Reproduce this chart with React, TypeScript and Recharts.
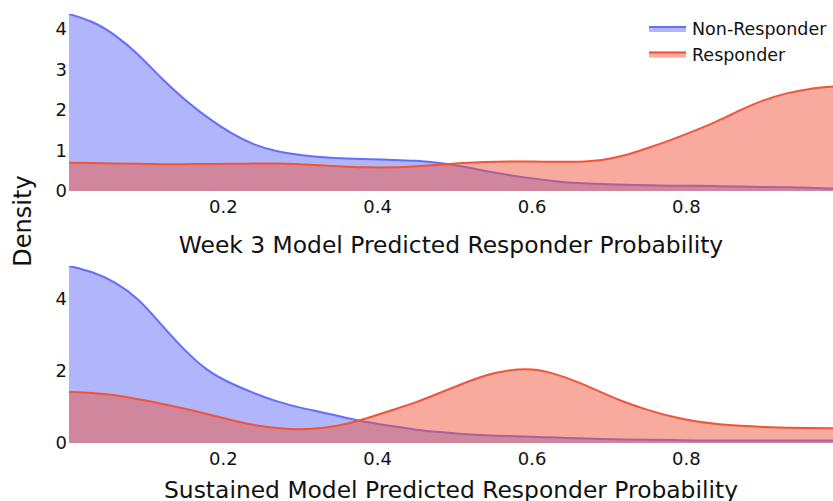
import { AreaChart, Area, XAxis, YAxis } from 'recharts';

const probability = [
  0, 0.03, 0.06, 0.09, 0.12, 0.15, 0.18, 0.21, 0.24, 0.27, 0.3, 0.33, 0.36, 0.39, 0.42, 0.45, 0.48,
  0.51, 0.54, 0.57, 0.6, 0.63, 0.66, 0.69, 0.72, 0.75, 0.78, 0.81, 0.84, 0.87, 0.9, 0.93, 0.96, 0.99,
];

const week3NonResponder = [
  4.37, 4.2, 3.86, 3.38, 2.77, 2.25, 1.8, 1.42, 1.13, 0.97, 0.88, 0.83, 0.8, 0.78, 0.77, 0.75, 0.7,
  0.61, 0.49, 0.39, 0.31, 0.24, 0.19, 0.17, 0.15, 0.14, 0.13, 0.13, 0.12, 0.11, 0.1, 0.09, 0.08, 0.06,
];

const week3Responder = [
  0.7, 0.69, 0.68, 0.67, 0.66, 0.66, 0.67, 0.67, 0.68, 0.68, 0.66, 0.63, 0.6, 0.58, 0.58, 0.61, 0.65,
  0.69, 0.72, 0.73, 0.73, 0.72, 0.72, 0.75, 0.87, 1.06, 1.26, 1.48, 1.72, 2.0, 2.25, 2.42, 2.53, 2.58,
];

const sustainedNonResponder = [
  4.89, 4.74, 4.45, 4.0, 3.26, 2.55, 1.97, 1.64, 1.37, 1.14, 0.97, 0.84, 0.69, 0.56, 0.46, 0.36, 0.3,
  0.25, 0.21, 0.19, 0.17, 0.15, 0.13, 0.11, 0.1, 0.09, 0.08, 0.07, 0.07, 0.07, 0.07, 0.07, 0.07, 0.07,
];

const sustainedResponder = [
  1.41, 1.39, 1.33, 1.21, 1.09, 0.95, 0.8, 0.63, 0.49, 0.41, 0.37, 0.41, 0.52, 0.71, 0.92, 1.12, 1.38,
  1.64, 1.88, 2.02, 2.06, 1.92, 1.68, 1.4, 1.12, 0.91, 0.73, 0.6, 0.52, 0.47, 0.44, 0.42, 0.41, 0.41,
];

const xTicks = [0.2, 0.4, 0.6, 0.8];
const week3YTicks = [0, 1, 2, 3, 4];
const sustainedYTicks = [0, 2, 4];
const seriesNames = ['Non-Responder', 'Responder'];
const seriesColors = ['#636efa', '#ef553b'];

const FONT = '"DejaVu Sans", Verdana, sans-serif';
const tickStyle = { fill: '#111', fontSize: 18, fontFamily: FONT };

const week3Data = probability.map((p, i) => ({
  p,
  nonResponder: week3NonResponder[i],
  responder: week3Responder[i],
}));

const sustainedData = probability.map((p, i) => ({
  p,
  nonResponder: sustainedNonResponder[i],
  responder: sustainedResponder[i],
}));

function DensityPanel({
  data,
  yMax,
  yTicks,
  height,
  top,
  axisHeight,
}: {
  data: any[];
  yMax: number;
  yTicks: number[];
  height: number;
  top: number;
  axisHeight: number;
}) {
  return (
    <AreaChart
      width={833}
      height={height}
      data={data}
      margin={{ top, right: 0, bottom: 0, left: 0 }}
    >
      <XAxis
        dataKey="p"
        type="number"
        domain={[0, 0.99]}
        ticks={xTicks}
        allowDataOverflow
        axisLine={false}
        tickLine={false}
        tickSize={0}
        tickMargin={9}
        height={axisHeight}
        tick={tickStyle}
      />
      <YAxis
        type="number"
        domain={[0, yMax]}
        ticks={yTicks}
        allowDataOverflow
        axisLine={false}
        tickLine={false}
        tickSize={0}
        tickMargin={2}
        width={69}
        tick={tickStyle}
      />
      <Area
        type="basis"
        dataKey="nonResponder"
        stroke={seriesColors[0]}
        strokeWidth={2}
        fill={seriesColors[0]}
        fillOpacity={0.5}
        isAnimationActive={false}
      />
      <Area
        type="basis"
        dataKey="responder"
        stroke={seriesColors[1]}
        strokeWidth={2}
        fill={seriesColors[1]}
        fillOpacity={0.5}
        isAnimationActive={false}
      />
    </AreaChart>
  );
}

export default function App() {
  return (
    <div
      style={{
        position: 'absolute',
        left: 0,
        top: 0,
        width: 833,
        height: 501,
        background: '#fff',
        overflow: 'hidden',
      }}
    >
      <div style={{ position: 'absolute', left: 0, top: 0 }}>
        <DensityPanel
          data={week3Data}
          yMax={4.37}
          yTicks={week3YTicks}
          height={250}
          top={14}
          axisHeight={59}
        />
      </div>
      <div style={{ position: 'absolute', left: 0, top: 250 }}>
        <DensityPanel
          data={sustainedData}
          yMax={4.89}
          yTicks={sustainedYTicks}
          height={251}
          top={16}
          axisHeight={58}
        />
      </div>
      <svg
        width={833}
        height={501}
        style={{ position: 'absolute', left: 0, top: 0, pointerEvents: 'none' }}
        fontFamily={FONT}
      >
        <text x={451} y={253} textAnchor="middle" fontSize={23.4} fill="#111">
          Week 3 Model Predicted Responder Probability
        </text>
        <text x={451} y={498} textAnchor="middle" fontSize={23.4} fill="#111">
          Sustained Model Predicted Responder Probability
        </text>
        <text
          x={31}
          y={221}
          textAnchor="middle"
          fontSize={24}
          fill="#111"
          transform="rotate(-90 31 221)"
        >
          Density
        </text>
        {seriesNames.map((name, i) => (
          <g key={name} transform={`translate(649, ${26 + i * 25.5})`}>
            <rect x={0} y={0} width={37} height={6} fill={seriesColors[i]} fillOpacity={0.5} />
            <line x1={0} x2={37} y1={1} y2={1} stroke={seriesColors[i]} strokeWidth={2} />
            <text x={43} y={3} dy="0.36em" fontSize={17.5} fill="#111">
              {name}
            </text>
          </g>
        ))}
      </svg>
    </div>
  );
}
